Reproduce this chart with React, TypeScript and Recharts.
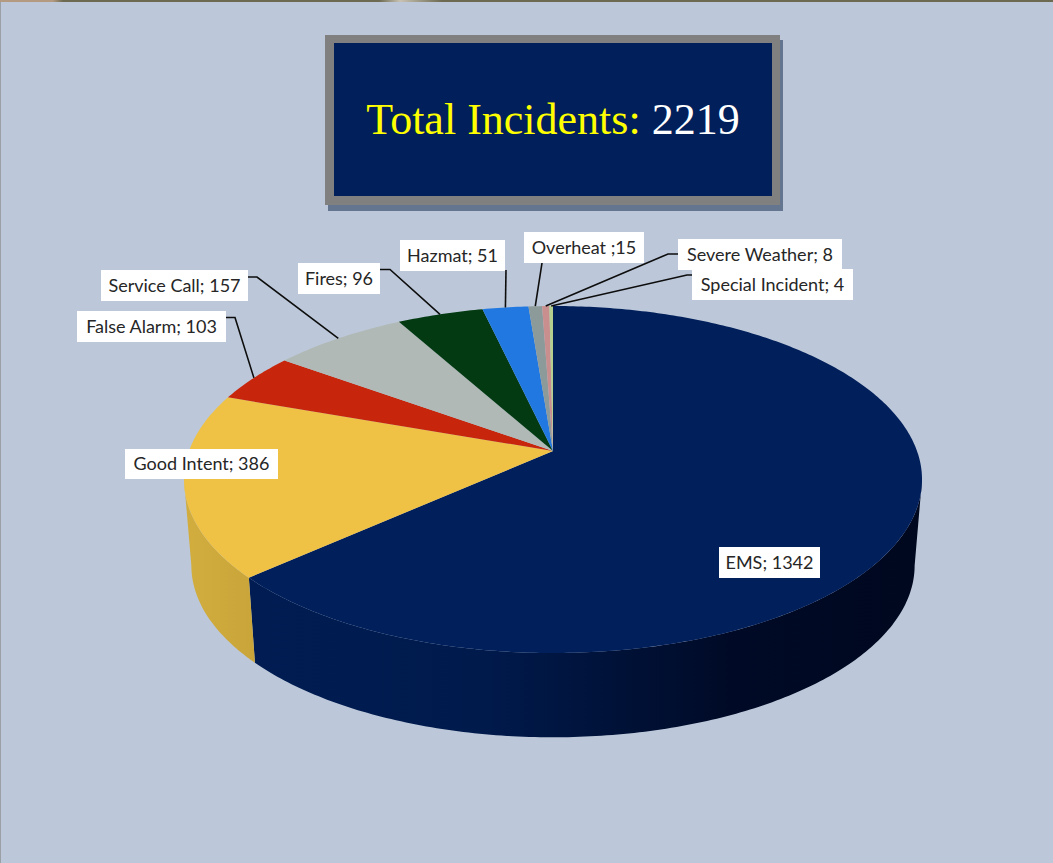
import React from 'react';
import { PieChart, Pie, Cell } from 'recharts';

const CATEGORIES = ['EMS', 'Good Intent', 'False Alarm', 'Service Call', 'Fires', 'Hazmat', 'Overheat', 'Severe Weather', 'Special Incident'];
const VALUES = [1342, 386, 103, 157, 96, 51, 15, 8, 4];
const LABEL_TEXTS = ['EMS; 1342', 'Good Intent; 386', 'False Alarm; 103', 'Service Call; 157', 'Fires; 96', 'Hazmat; 51', 'Overheat ;15', 'Severe Weather; 8', 'Special Incident; 4'];
const COLORS = ['#001f5b', '#efc145', '#c7260c', '#b0b9b6', '#033a12', '#2178e0', '#8d9a9a', '#c98f8f', '#b5cf8f'];
const TITLE_LABEL = 'Total Incidents:';
const TITLE_VALUE = '2219';

const pieData = CATEGORIES.map((name, i) => ({ name, value: VALUES[i] }));

// label layout: box [x, y, w, h], elbow point or null
const LABEL_BOXES = [
  [719, 547, 101, 31], [125, 449, 153, 30], [77, 311, 149, 31], [101, 270, 147, 31], [298, 263, 82, 31],
  [400, 240, 105, 31], [524, 232, 120, 31], [678, 239, 164, 31], [692, 269, 161, 31],
];
const LEADERS: (number[][] | null)[] = [
  null, null,
  [[226, 317.5], [235, 317.5]],
  [[248, 277], [257, 277]],
  [[380, 269.5], [390, 269.5]],
  [[506, 270]],
  [[542, 263]],
  [[678, 254], [668, 254]],
  [[692, 275], [687, 275]],
];

// perspective projection of the pie disc
const C = -0.1643;
const KY = 0.4638;
const warp = (a: number) => {
  if (a <= 223.4) return (a * 228) / 223.4;
  if (a < 331) return a + (4.6 * (331 - a)) / 107.6;
  return a;
};
const rimW = (aw: number, cx: number, cy: number, R: number) => {
  const t = (aw * Math.PI) / 180;
  const ux = Math.sin(t);
  const uy = -Math.cos(t);
  const w = 1 + C * uy;
  return [cx + (R * ux) / w, cy + (R * KY * uy) / w];
};
const bottomOf = (p: number[], cx: number, cy: number) => [cx + 0.98 * (p[0] - cx), cy + 115 + 0.99 * (p[1] - cy - 29)];
const WALL_FROM = 99.5;
const WALL_TO = 260.5;

const arcPts = (a0: number, a1: number, cx: number, cy: number, R: number) => {
  const pts: number[][] = [];
  const n = Math.max(2, Math.ceil(Math.abs(a1 - a0) / 0.75));
  for (let i = 0; i <= n; i++) pts.push(rimW(a0 + ((a1 - a0) * i) / n, cx, cy, R));
  return pts;
};
const d = (pts: number[][]) => 'M' + pts.map((p) => `${p[0].toFixed(2)},${p[1].toFixed(2)}`).join('L') + 'Z';

const WALL_GRADS: Record<number, string[][]> = {
  0: [['0', '#001c52'], ['0.35', '#001a4c'], ['0.72', '#000a26'], ['1', '#00081f']],
  1: [['0', '#d2ad3e'], ['1', '#c9a53a']],
};

const SectorShape = (props: any) => {
  const { cx, cy, outerRadius: R, startAngle, endAngle, fill } = props;
  const index = COLORS.indexOf(fill);
  const a0 = warp(90 - startAngle);
  const a1 = warp(90 - endAngle);
  const top = [[cx, cy], ...arcPts(a0, a1, cx, cy, R)];
  const wf = Math.max(a0, WALL_FROM);
  const wt = Math.min(a1, WALL_TO);
  let wall = null;
  if (wt > wf) {
    const upper = arcPts(wf, wt, cx, cy, R);
    const lower = upper.map((p) => bottomOf(p, cx, cy)).reverse();
    const grad = WALL_GRADS[index];
    const id = `wall-${index}`;
    const xs = [...upper, ...lower].map((p) => p[0]);
    wall = (
      <g>
        <defs>
          <linearGradient id={id} gradientUnits="userSpaceOnUse" x1={Math.min(...xs)} x2={Math.max(...xs)} y1={0} y2={0}>
            {(grad || [['0', fill]]).map((s, i) => (
              <stop key={i} offset={s[0]} stopColor={s[1]} />
            ))}
          </linearGradient>
        </defs>
        <path d={d([...upper, ...lower])} fill={`url(#${id})`} />
      </g>
    );
  }
  return (
    <g>
      {wall}
      <path d={d(top)} fill={fill} />
    </g>
  );
};

const renderLabel = (props: any) => {
  const { index, cx, cy, outerRadius: R, midAngle } = props;
  const [x, y, w, h] = LABEL_BOXES[index];
  const leader = LEADERS[index];
  const tip = rimW(warp(90 - midAngle), cx, cy, R);
  return (
    <g key={index}>
      {leader && (
        <polyline points={[...leader, tip].map((p) => p.join(',')).join(' ')} fill="none" stroke="#0d0d0d" strokeWidth={1.6} />
      )}
      <rect x={x} y={y} width={w} height={h} fill="#ffffff" />
      <text x={x + w / 2} y={y + h / 2 + 6} textAnchor="middle" fontFamily="Lato, 'Open Sans', sans-serif" fontSize={18} fill="#262626">
        {LABEL_TEXTS[index]}
      </text>
    </g>
  );
};

export default function App() {
  return (
    <div style={{ position: 'absolute', left: 0, top: 0, width: 1053, height: 863, overflow: 'hidden', background: '#bcc8d9' }}>
      <div style={{ position: 'absolute', left: 0, top: 0, width: 1053, height: 2, background: 'linear-gradient(90deg,#b59a82 0,#b59a82 5%,#6c6a50 6%,#6c6a50 36%,#c9c2b4 38%,#6c6a50 42%,#6c6a50 100%)' }} />
      <div style={{ position: 'absolute', left: 0, top: 2, width: 1, height: 861, background: '#9aa0a6' }} />
      <div style={{ position: 'absolute', left: 0, top: 0 }}>
        <PieChart width={1053} height={863} margin={{ top: 0, right: 0, bottom: 0, left: 0 }}>
          <Pie
            data={pieData}
            dataKey="value"
            nameKey="name"
            cx={553}
            cy={451}
            innerRadius={0}
            outerRadius={364}
            startAngle={90}
            endAngle={-270}
            stroke="none"
            isAnimationActive={false}
            shape={SectorShape}
            inactiveShape={SectorShape}
            activeShape={SectorShape}
            label={renderLabel}
            labelLine={false}
          >
            {pieData.map((e, i) => (
              <Cell key={e.name} fill={COLORS[i]} />
            ))}
          </Pie>
        </PieChart>
      </div>
      <div style={{ position: 'absolute', left: 328, top: 40, width: 455, height: 171, background: '#64768f' }} />
      <div style={{ position: 'absolute', left: 325, top: 35, width: 455, height: 170, background: '#808080' }} />
      <div style={{ position: 'absolute', left: 334, top: 43, width: 438, height: 153, background: '#001f5b' }} />
      <div style={{ position: 'absolute', left: 334, top: 43, width: 438, height: 153, lineHeight: '153px', textAlign: 'center', fontFamily: "'Liberation Serif', serif", fontSize: 44, whiteSpace: 'pre' }}>
        <span style={{ color: '#ffff00' }}>{TITLE_LABEL}</span>
        <span style={{ color: '#ffffff' }}> {TITLE_VALUE}</span>
      </div>
    </div>
  );
}
